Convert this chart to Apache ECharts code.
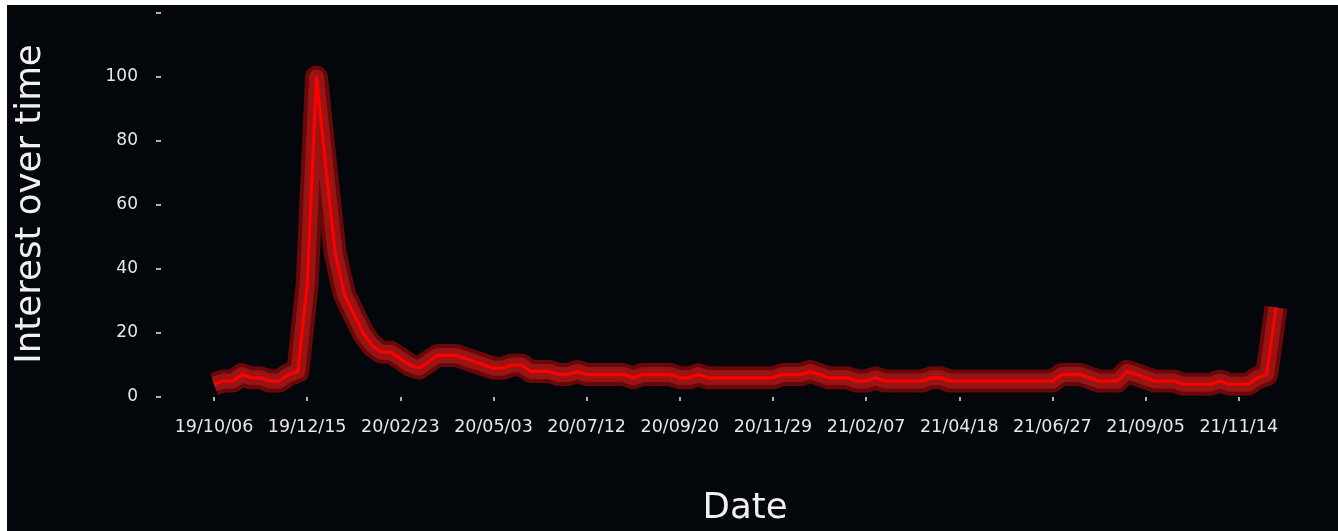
<!DOCTYPE html>
<html>
<head>
<meta charset="utf-8">
<script src="https://cdn.jsdelivr.net/npm/echarts@6/dist/echarts.min.js"></script>
<style>
  html, body { margin: 0; padding: 0; background: #ffffff; width: 1338px; height: 531px; overflow: hidden; }
  #chart { position: absolute; left: 7px; top: 5px; width: 1331px; height: 526px; background: #03070c; }
</style>
</head>
<body>
<div id="chart"></div>
<script>
// Weekly Google-Trends style data, first week 2019-10-06
const startDate = [2019, 10, 6];
const weekCount = 115;
const interest = [
  4, 5, 5, 7, 6, 6, 5, 5, 7, 8,
  35, 100, 72, 45, 32, 26, 20, 16, 14, 14,
  12, 10, 9, 11, 13, 13, 13, 12, 11, 10,
  9, 9, 10, 10, 8, 8, 8, 7, 7, 8,
  7, 7, 7, 7, 7, 6, 7, 7, 7, 7,
  6, 6, 7, 6, 6, 6, 6, 6, 6, 6,
  6, 7, 7, 7, 8, 7, 6, 6, 6, 5,
  5, 6, 5, 5, 5, 5, 5, 6, 6, 5,
  5, 5, 5, 5, 5, 5, 5, 5, 5, 5,
  5, 7, 7, 7, 6, 5, 5, 5, 8, 7,
  6, 5, 5, 5, 4, 4, 4, 4, 5, 4,
  4, 4, 6, 7, 28
];
const yTicks = [0, 20, 40, 60, 80, 100, 120];
const yLabelHidden = [120];
const xTitle = 'Date';
const yTitle = 'Interest over time';

const dates = [];
for (let i = 0; i < weekCount; i++) {
  const t = new Date(Date.UTC(startDate[0], startDate[1] - 1, startDate[2] + 7 * i));
  const yy = String(t.getUTCFullYear() % 100).padStart(2, '0');
  const mm = String(t.getUTCMonth() + 1).padStart(2, '0');
  const dd = String(t.getUTCDate()).padStart(2, '0');
  dates.push(yy + '/' + mm + '/' + dd);
}

const chart = echarts.init(document.getElementById('chart'), null, { renderer: 'canvas' });
const font = 'DejaVu Sans';
const layers = [
  { color: '#680808', width: 23 },
  { color: '#991414', width: 15 },
  { color: '#ff0000', width: 3.2 }
];

chart.setOption({
  backgroundColor: '#03070c',
  animation: false,
  grid: { left: 207, right: 62, top: 8, bottom: 134, containLabel: false },
  xAxis: {
    type: 'category',
    data: dates,
    boundaryGap: false,
    axisLine: { show: false },
    axisTick: { show: true, interval: 9, length: 4, lineStyle: { color: '#e6e6e6', width: 1.5 } },
    axisLabel: { interval: 9, color: '#e6e6e6', fontFamily: font, fontSize: 17.5, margin: 21 },
    splitLine: { show: false }
  },
  yAxis: {
    type: 'value',
    min: yTicks[0],
    max: yTicks[yTicks.length - 1],
    interval: yTicks[1] - yTicks[0],
    offset: 53,
    axisLine: { show: false },
    axisTick: { show: true, length: 5, lineStyle: { color: '#e6e6e6', width: 1.5 } },
    axisLabel: {
      color: '#e6e6e6', fontFamily: font, fontSize: 17, margin: 23,
      formatter: v => (yLabelHidden.indexOf(v) >= 0 ? '' : String(v))
    },
    splitLine: { show: false }
  },
  graphic: [
    {
      type: 'text', x: 24, y: 199, rotation: Math.PI / 2,
      style: { text: yTitle, fill: '#f0f0f0', font: '35.6px "DejaVu Sans"', textAlign: 'center', textVerticalAlign: 'middle' }
    },
    {
      type: 'text', x: 738, y: 503.5,
      style: { text: xTitle, fill: '#f0f0f0', font: '35.6px "DejaVu Sans"', textAlign: 'center', textVerticalAlign: 'middle' }
    }
  ],
  series: layers.map(l => ({
    type: 'line',
    data: interest,
    symbol: 'none',
    silent: true,
    lineStyle: { color: l.color, width: l.width, join: 'round', cap: 'butt' }
  }))
});
</script>
</body>
</html>
